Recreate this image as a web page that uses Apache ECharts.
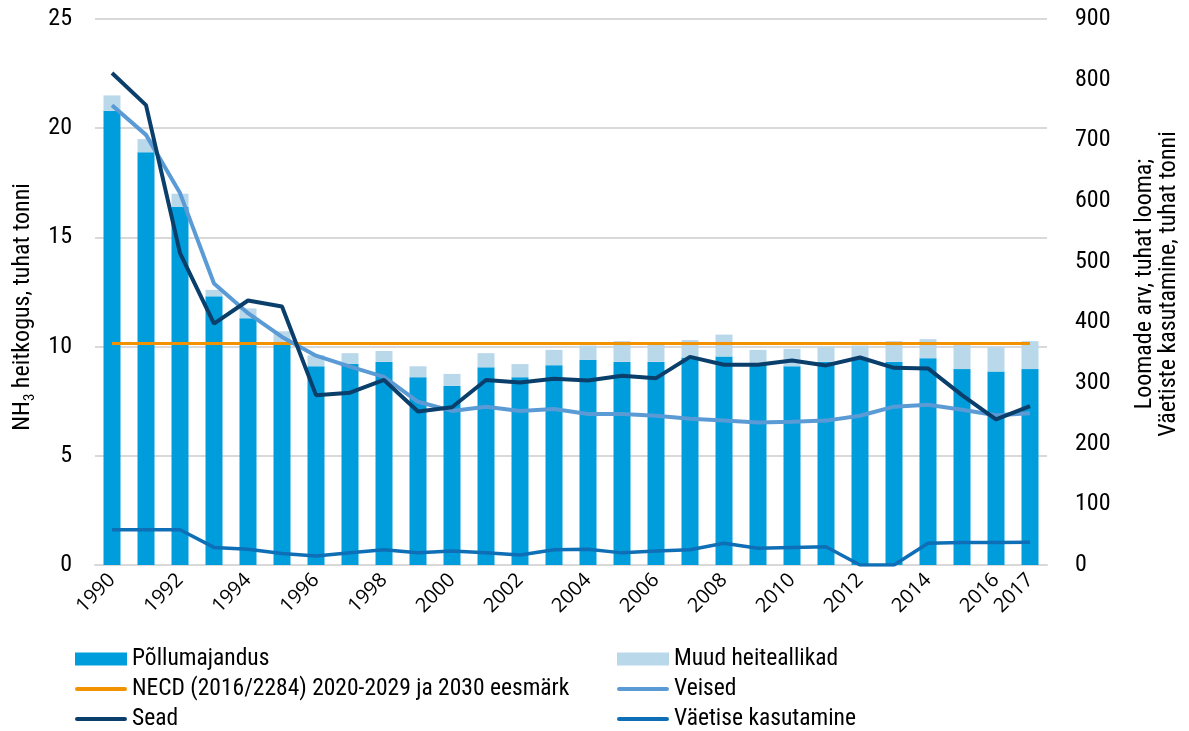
<!DOCTYPE html>
<html>
<head>
<meta charset="utf-8">
<script src="https://cdn.jsdelivr.net/npm/echarts@6/dist/echarts.min.js"></script>
<style>
  html, body { margin: 0; padding: 0; background: #fff; }
  #chart { width: 1189px; height: 731px; }
</style>
</head>
<body>
<div id="chart"></div>
<script>
// aastad
var years = ['1990','1991','1992','1993','1994','1995','1996','1997','1998','1999',
  '2000','2001','2002','2003','2004','2005','2006','2007','2008','2009',
  '2010','2011','2012','2013','2014','2015','2016','2017'];

// NH3 heitkogus, tuhat tonni
var pollumajandus = [20.8, 18.9, 16.4, 12.3, 11.3, 10.1, 9.1, 9.2, 9.3, 8.6,
  8.2, 9.05, 8.6, 9.15, 9.4, 9.3, 9.3, 9.5, 9.55, 9.2,
  9.1, 9.3, 9.45, 9.3, 9.47, 8.97, 8.86, 8.97];
var muud = [0.7, 0.6, 0.6, 0.3, 0.45, 0.6, 0.5, 0.5, 0.5, 0.5,
  0.55, 0.65, 0.6, 0.7, 0.65, 0.95, 0.8, 0.8, 1.0, 0.65,
  0.8, 0.7, 0.6, 0.95, 0.87, 1.1, 1.13, 1.28];
var necd = [10.14, 10.14, 10.14, 10.14, 10.14, 10.14, 10.14, 10.14, 10.14, 10.14,
  10.14, 10.14, 10.14, 10.14, 10.14, 10.14, 10.14, 10.14, 10.14, 10.14,
  10.14, 10.14, 10.14, 10.14, 10.14, 10.14, 10.14, 10.14];

// loomade arv (tuhat looma), väetis (tuhat tonni)
var veised = [758, 709, 613, 464, 415, 376, 345, 327, 310, 269,
  254, 261, 254, 257, 249, 249, 246, 241, 238, 235,
  236, 238, 246, 261, 264, 256, 247, 250];
var sead = [811, 758, 514, 398, 436, 426, 280, 284, 305, 253,
  260, 305, 301, 307, 304, 312, 308, 343, 330, 330,
  337, 329, 342, 325, 324, 280, 240, 262];
var vaetis = [58, 58, 58, 29, 26, 19, 15, 20, 25, 20,
  23, 20, 16.5, 25, 26, 20, 23, 25, 36, 27.5,
  29, 30, 0, 0, 36, 37, 37, 37.5];

var FONT = "'Roboto Condensed', 'Liberation Sans Narrow', 'DejaVu Sans Condensed', Roboto, sans-serif";
var LINE_ICON = 'path://M2,0h47a2,2 0 0 1 0,4h-47a2,2 0 0 1 0,-4z';

var chart = echarts.init(document.getElementById('chart'));

var legendBase = {
  top: 640, height: 100, orient: 'vertical', itemGap: 2,
  itemWidth: 52, itemHeight: 13,
  textStyle: { fontFamily: FONT, fontSize: 23.5, color: '#000', lineHeight: 28 }
};

var option = {
  animation: false,
  textStyle: { fontFamily: FONT, color: '#000' },
  grid: { left: 95, right: 142, top: 19, bottom: 166 },
  legend: [
    Object.assign({}, legendBase, {
      left: 70,
      data: [
        { name: 'Põllumajandus', icon: 'rect' },
        { name: 'NECD (2016/2284) 2020-2029 ja 2030 eesmärk', icon: LINE_ICON },
        { name: 'Sead', icon: LINE_ICON }
      ]
    }),
    Object.assign({}, legendBase, {
      left: 612,
      data: [
        { name: 'Muud heiteallikad', icon: 'rect' },
        { name: 'Veised', icon: LINE_ICON },
        { name: 'Väetise kasutamine', icon: LINE_ICON }
      ]
    })
  ],
  xAxis: {
    type: 'category',
    data: years,
    axisTick: { show: false },
    axisLine: { lineStyle: { color: '#d9d9d9', width: 2 } },
    axisLabel: {
      rotate: 45, fontSize: 20, color: '#000', fontFamily: "'Open Sans', 'Noto Sans', sans-serif", margin: 12,
      interval: function (i) { return i % 2 === 0 || i === years.length - 1; }
    }
  },
  yAxis: [
    {
      type: 'value', min: 0, max: 25, interval: 5,
      name: '{a|NH}{s|3}{a| heitkogus, tuhat tonni}',
      nameLocation: 'middle', nameGap: 52, nameRotate: 90,
      nameTextStyle: {
        padding: [0, 30, 0, 0],
        rich: {
          a: { fontSize: 24, fontFamily: FONT, color: '#000', lineHeight: 28 },
          s: { fontSize: 15, fontFamily: FONT, color: '#000', lineHeight: 28, verticalAlign: 'bottom', padding: [9, 0, 0, 0] }
        }
      },
      axisLabel: { fontSize: 24, color: '#000', fontFamily: FONT, margin: 23 },
      axisLine: { show: false },
      axisTick: { show: false },
      splitLine: { lineStyle: { color: '#d9d9d9', width: 2 } }
    },
    {
      type: 'value', min: 0, max: 900, interval: 100,
      name: 'Loomade arv, tuhat looma;\nVäetiste kasutamine, tuhat tonni',
      nameLocation: 'middle', nameGap: 86, nameRotate: 90,
      nameTextStyle: { fontSize: 24, fontFamily: FONT, color: '#000', lineHeight: 24, padding: [0, 0, 0, 16] },
      axisLabel: { fontSize: 24, color: '#000', fontFamily: FONT, margin: 28 },
      axisLine: { show: false },
      axisTick: { show: false },
      splitLine: { show: false }
    }
  ],
  series: [
    {
      name: 'Põllumajandus', type: 'bar', stack: 'nh3', barWidth: '50%',
      itemStyle: { color: '#009ddc' }, data: pollumajandus
    },
    {
      name: 'Muud heiteallikad', type: 'bar', stack: 'nh3',
      itemStyle: { color: '#b9d8ea' }, data: muud
    },
    {
      name: 'NECD (2016/2284) 2020-2029 ja 2030 eesmärk', type: 'line',
      symbol: 'none', lineStyle: { color: '#f39200', width: 3 },
      itemStyle: { color: '#f39200' }, data: necd
    },
    {
      name: 'Veised', type: 'line', yAxisIndex: 1,
      symbol: 'none', lineStyle: { color: '#5b9bd5', width: 4 },
      itemStyle: { color: '#5b9bd5' }, data: veised
    },
    {
      name: 'Sead', type: 'line', yAxisIndex: 1,
      symbol: 'none', lineStyle: { color: '#0b3f6b', width: 4 },
      itemStyle: { color: '#0b3f6b' }, data: sead
    },
    {
      name: 'Väetise kasutamine', type: 'line', yAxisIndex: 1,
      symbol: 'none', lineStyle: { color: '#0e6fb7', width: 3.5 },
      itemStyle: { color: '#0e6fb7' }, data: vaetis
    }
  ]
};

chart.setOption(option);
</script>
</body>
</html>
